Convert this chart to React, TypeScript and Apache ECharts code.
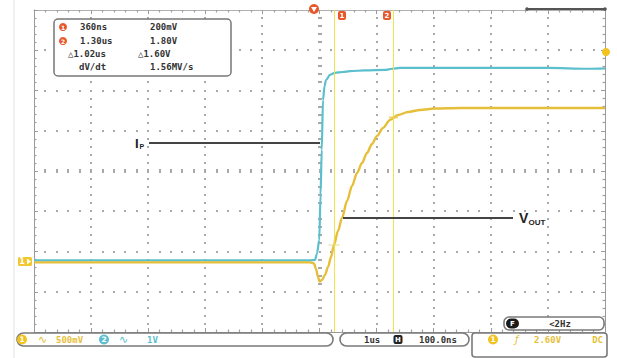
import { useEffect, useRef } from "react";
import * as echarts from "echarts";

// time axis: 100 ns / div, 10 divisions, centred on the trigger
const timeMin = -500;
const timeMax = 500;
const timeStep = 100;
// vertical: 8 divisions
const divMin = -4;
const divMax = 4;

// CH1 (VOUT) 500 mV/div, ground marker at -2.27 div
const ch1VoltsPerDiv = 0.5;
const ch1OffsetDiv = -2.27;
// CH2 (IP) 1 V/div
const ch2VoltsPerDiv = 1;
const ch2OffsetDiv = -2.22;

const ipTimeNs = [-500, -16.6, -7.9, -4.4, -0.4, 1.8, 3.9, 6.1, 8.8, 11.4, 18.4, 27.1, 41, 53.4, 80, 115, 127, 141, 400, 470, 500];
const ipVolts = [0, 0, 0.01, 0.17, 0.51, 1.62, 2.74, 3.98, 4.33, 4.48, 4.61, 4.66, 4.68, 4.7, 4.72, 4.73, 4.76, 4.78, 4.78, 4.76, 4.77];

const voutTimeNs = [-500, -16.6, -9.6, -6.1, -2.6, 0, 4.4, 9.6, 14.9, 20.1, 25.4, 32.4, 39.4, 48.2, 56.9, 65.7, 74.4, 83.2, 91.9, 100.7, 111.2, 123.5, 137.5, 155, 176, 202, 246, 500];
const voutVolts = [0, 0, -0.014, -0.082, -0.182, -0.238, -0.219, -0.157, -0.058, 0.067, 0.216, 0.39, 0.551, 0.762, 0.948, 1.11, 1.234, 1.359, 1.47, 1.57, 1.669, 1.769, 1.831, 1.868, 1.893, 1.911, 1.918, 1.918];

const cursorTimeNs = [25.4, 129.6];
const cursorCrossVolts = [0.216, 1.8];

const readoutRows = [
  ["360ns", "200mV"],
  ["1.30us", "1.80V"],
  ["△1.02us", "△1.60V"],
  ["dV/dt", "1.56MV/s"],
];

const YEL = "#e6bf3a";
const CYAN = "#5bbfce";
const RED = "#e8572c";
const CURSOR = "#f0e24a";
const MONO = "DejaVu Sans Mono";

// plot frame geometry (pixels)
const GX = 34;
const GY = 10;
const GW = 571;
const GH = 322;

export default function App() {
  const ref = useRef<HTMLDivElement>(null);
  useEffect(() => {
    if (!ref.current) return;
    const chart = echarts.init(ref.current, undefined, { renderer: "svg" });

    const ch1Min = (divMin - ch1OffsetDiv) * ch1VoltsPerDiv;
    const ch1Max = (divMax - ch1OffsetDiv) * ch1VoltsPerDiv;
    const ch2Min = (divMin - ch2OffsetDiv) * ch2VoltsPerDiv;
    const ch2Max = (divMax - ch2OffsetDiv) * ch2VoltsPerDiv;
    const nX = (timeMax - timeMin) / timeStep;
    const nY = divMax - divMin;
    const dx = GW / nX;
    const dy = GH / nY;

    const frameTick = {
      show: true,
      inside: true,
      length: 4,
      lineStyle: { color: "#9a9a9a", width: 1 },
    };
    const frameMinor = {
      show: true,
      splitNumber: 5,
      length: 2.5,
      lineStyle: { color: "#a0a0a0", width: 1.2 },
    };

    const txt = (
      x: number,
      y: number,
      text: string,
      fill: string,
      size: number,
      extra: any = {}
    ) => ({
      type: "text",
      x,
      y,
      z: 100,
      style: {
        text,
        fill,
        fontSize: size,
        fontFamily: MONO,
        fontWeight: "bold",
        verticalAlign: "middle",
        align: "left",
        ...extra,
      },
    });

    const badge = (cx: number, cy: number, r: number, fill: string, label: string) => [
      { type: "circle", z: 100, shape: { cx, cy, r }, style: { fill } },
      {
        type: "text",
        x: cx,
        y: cy,
        z: 101,
        style: {
          text: label,
          fill: "#fff",
          fontSize: r * 1.5,
          fontFamily: "DejaVu Sans",
          fontWeight: "bold",
          align: "center",
          verticalAlign: "middle",
        },
      },
    ];

    // dotted oscilloscope graticule (small squares every 1/5 division)
    const gridDots: any[] = [];
    const dot = (x: number, y: number, w: number, h: number) =>
      gridDots.push({
        type: "rect",
        z: 1,
        silent: true,
        shape: { x: Math.round(x - w / 2), y: Math.round(y - h / 2), width: w, height: h },
        style: { fill: "#a9a9a9" },
      });
    for (let i = 1; i < nX; i++) {
      const x = GX + i * dx;
      const center = i === nX / 2;
      for (let k = 1; k < nY * 5; k++) {
        const y = GY + (k * dy) / 5;
        if (k % 5 === 0) continue;
        dot(x, y, center ? 4 : 2, 2);
      }
    }
    for (let j = 1; j < nY; j++) {
      const y = GY + j * dy;
      const center = j === nY / 2;
      for (let k = 1; k < nX * 5; k++) {
        const x = GX + (k * dx) / 5;
        dot(x, y, 2, center ? 4 : 2);
      }
    }

    const graphics: any[] = [
      ...gridDots,
      // faint page edge
      { type: "line", z: 1, shape: { x1: 14, y1: 0, x2: 14, y2: 358 }, style: { stroke: "#e2e2e2", lineWidth: 1 } },
      // top-right record bar
      { type: "line", z: 100, shape: { x1: 527, y1: 9, x2: 605, y2: 9 }, style: { stroke: "#555", lineWidth: 2 } },
      { type: "circle", z: 100, shape: { cx: 527, cy: 9, r: 1.8 }, style: { fill: "#555" } },
      { type: "circle", z: 100, shape: { cx: 605, cy: 9, r: 1.8 }, style: { fill: "#555" } },
      // trigger position marker
      { type: "circle", z: 100, shape: { cx: 314, cy: 9, r: 5 }, style: { fill: RED } },
      { type: "polygon", z: 101, shape: { points: [[311, 7], [317, 7], [314, 12]] }, style: { fill: "#fff" } },
      // cursor labels
      { type: "rect", z: 100, shape: { x: 338, y: 11, width: 8, height: 9, r: 2 }, style: { fill: RED } },
      { type: "text", z: 101, x: 342, y: 15.5, style: { text: "1", fill: "#fff", fontSize: 7, fontWeight: "bold", fontFamily: "DejaVu Sans", align: "center", verticalAlign: "middle" } },
      { type: "rect", z: 100, shape: { x: 383, y: 11, width: 8, height: 9, r: 2 }, style: { fill: RED } },
      { type: "text", z: 101, x: 387, y: 15.5, style: { text: "2", fill: "#fff", fontSize: 7, fontWeight: "bold", fontFamily: "DejaVu Sans", align: "center", verticalAlign: "middle" } },
      // trigger level marker
      { type: "circle", z: 100, shape: { cx: 606, cy: 52, r: 4 }, style: { fill: "#f2c21e" } },
      // CH1 ground marker
      { type: "rect", z: 100, shape: { x: 18, y: 257, width: 14, height: 9, r: 1.5 }, style: { fill: "#f0c830" } },
      { type: "text", z: 101, x: 22, y: 261.5, style: { text: "1", fill: "#fff", fontSize: 8, fontWeight: "bold", fontFamily: "DejaVu Sans", align: "center", verticalAlign: "middle" } },
      { type: "polygon", z: 101, shape: { points: [[27, 258.5], [31, 261.5], [27, 264.5]] }, style: { fill: "#fff" } },

      // readout box
      { type: "rect", z: 99, shape: { x: 54, y: 19, width: 177, height: 57, r: 4 }, style: { fill: "#fff", stroke: "#777", lineWidth: 1.5 } },
      ...badge(63, 27, 4, RED, "1"),
      ...badge(63, 41, 4, RED, "2"),
      txt(80, 27, readoutRows[0][0], "#333", 9),
      txt(150, 27, readoutRows[0][1], "#333", 9),
      txt(80, 41, readoutRows[1][0], "#333", 9),
      txt(150, 41, readoutRows[1][1], "#333", 9),
      txt(68, 54, readoutRows[2][0], "#333", 9),
      txt(138, 54, readoutRows[2][1], "#333", 9),
      txt(79, 67, readoutRows[3][0], "#333", 9),
      txt(150, 67, readoutRows[3][1], "#333", 9),

      // IP annotation
      { type: "line", z: 100, shape: { x1: 149, y1: 143, x2: 320, y2: 143 }, style: { stroke: "#444", lineWidth: 2 } },
      { type: "text", z: 100, x: 135, y: 143.5, style: { text: "I", fill: "#222", fontSize: 13, fontWeight: "bold", fontFamily: "Liberation Sans", verticalAlign: "middle" } },
      { type: "text", z: 100, x: 139.5, y: 146, style: { text: "P", fill: "#222", fontSize: 7, fontWeight: "bold", fontFamily: "Liberation Sans", verticalAlign: "middle" } },
      // VOUT annotation
      { type: "line", z: 100, shape: { x1: 343, y1: 218, x2: 513, y2: 218 }, style: { stroke: "#444", lineWidth: 2 } },
      { type: "text", z: 100, x: 519, y: 218, style: { text: "V", fill: "#222", fontSize: 14, fontWeight: "bold", fontFamily: "Liberation Sans", verticalAlign: "middle" } },
      { type: "text", z: 100, x: 528.5, y: 222.5, style: { text: "OUT", fill: "#222", fontSize: 8, fontWeight: "bold", fontFamily: "Liberation Sans", verticalAlign: "middle" } },

      // bottom bar 1 (channels)
      { type: "rect", z: 99, shape: { x: 17, y: 333, width: 316, height: 13, r: 6.5 }, style: { fill: "#fff", stroke: "#7a7a7a", lineWidth: 1.6 } },
      ...badge(22, 339.5, 5, "#f2c21e", "1"),
      { type: "text", z: 100, x: 38, y: 339.5, style: { text: "∿", fill: YEL, fontSize: 11, fontFamily: "DejaVu Sans", verticalAlign: "middle" } },
      txt(56, 339.5, "500mV", YEL, 9),
      ...badge(104, 339.5, 5, CYAN, "2"),
      { type: "text", z: 100, x: 119, y: 339.5, style: { text: "∿", fill: CYAN, fontSize: 11, fontFamily: "DejaVu Sans", verticalAlign: "middle" } },
      txt(147, 339.5, "1V", CYAN, 9),

      // bottom bar 2 (timebase)
      { type: "rect", z: 99, shape: { x: 340, y: 333, width: 129, height: 13, r: 6.5 }, style: { fill: "#fff", stroke: "#7a7a7a", lineWidth: 1.6 } },
      txt(364, 339.5, "1us", "#333", 9),
      { type: "rect", z: 100, shape: { x: 393.5, y: 335, width: 9, height: 9, r: 2 }, style: { fill: "#222" } },
      { type: "text", z: 101, x: 398, y: 339.5, style: { text: "H", fill: "#fff", fontSize: 7, fontWeight: "bold", fontFamily: "DejaVu Sans", align: "center", verticalAlign: "middle" } },
      txt(419, 339.5, "100.0ns", "#333", 9),

      // bottom bar 3 (trigger)
      { type: "rect", z: 99, shape: { x: 472, y: 333, width: 135, height: 24, r: 3 }, style: { fill: "#fff", stroke: "#7a7a7a", lineWidth: 1.6 } },
      ...badge(493, 339.5, 5, "#f2c21e", "1"),
      { type: "text", z: 100, x: 515, y: 339.5, style: { text: "ƒ", fill: YEL, fontSize: 10, fontStyle: "italic", fontFamily: "DejaVu Sans", verticalAlign: "middle" } },
      txt(534, 339.5, "2.60V", YEL, 9),
      txt(603, 339.5, "DC", YEL, 9, { align: "right" }),

      // frequency box
      { type: "rect", z: 99, shape: { x: 504, y: 317, width: 100, height: 13, r: 5 }, style: { fill: "#fff", stroke: "#7a7a7a", lineWidth: 1.6 } },
      { type: "rect", z: 100, shape: { x: 506, y: 318.5, width: 13, height: 10, r: 5 }, style: { fill: "#1a1a1a" } },
      { type: "text", z: 101, x: 512.5, y: 323.5, style: { text: "F", fill: "#fff", fontSize: 7, fontWeight: "bold", fontFamily: "DejaVu Sans", align: "center", verticalAlign: "middle" } },
      txt(560, 323.5, "<2Hz", "#333", 9, { align: "center" }),
    ];

    chart.setOption({
      animation: false,
      backgroundColor: "#fff",
      grid: { left: GX, top: GY, width: GW, height: GH, show: false },
      xAxis: [
        {
          type: "value",
          min: timeMin,
          max: timeMax,
          interval: timeStep,
          axisLabel: { show: false },
          axisLine: { show: true, onZero: false, lineStyle: { color: "#9a9a9a", width: 1 } },
          axisTick: frameTick,
          minorTick: frameMinor,
          splitLine: { show: false },
        },
        {
          type: "value",
          position: "top",
          min: timeMin,
          max: timeMax,
          interval: timeStep,
          axisLabel: { show: false },
          axisLine: { show: true, onZero: false, lineStyle: { color: "#b0b0b0", width: 1 } },
          axisTick: frameTick,
          minorTick: frameMinor,
          splitLine: { show: false },
        },
      ],
      yAxis: [
        {
          type: "value",
          min: divMin,
          max: divMax,
          interval: 1,
          axisLabel: { show: false },
          axisLine: { show: true, onZero: false, lineStyle: { color: "#9a9a9a", width: 1 } },
          axisTick: frameTick,
          minorTick: frameMinor,
          splitLine: { show: false },
        },
        { type: "value", min: ch1Min, max: ch1Max, show: false, axisLine: { onZero: false }, splitLine: { show: false } },
        { type: "value", min: ch2Min, max: ch2Max, show: false, axisLine: { onZero: false }, splitLine: { show: false } },
        {
          type: "value",
          position: "right",
          min: divMin,
          max: divMax,
          interval: 1,
          axisLabel: { show: false },
          axisLine: { show: true, onZero: false, lineStyle: { color: "#9a9a9a", width: 1 } },
          axisTick: frameTick,
          minorTick: frameMinor,
          splitLine: { show: false },
        },
      ],
      series: [
        {
          type: "line",
          name: "IP",
          yAxisIndex: 2,
          data: ipTimeNs.map((t, i) => [t, ipVolts[i]]),
          showSymbol: false,
          smooth: 0.3,
          smoothMonotone: "x",
          lineStyle: { color: CYAN, width: 2.2 },
          z: 3,
        },
        {
          type: "line",
          name: "VOUT",
          yAxisIndex: 1,
          data: voutTimeNs.map((t, i) => [t, voutVolts[i]]),
          showSymbol: false,
          smooth: 0.3,
          smoothMonotone: "x",
          lineStyle: { color: YEL, width: 2.4 },
          z: 4,
          markLine: {
            silent: true,
            symbol: "none",
            label: { show: false },
            lineStyle: { color: CURSOR, width: 1, type: "solid" },
            data: cursorTimeNs.map((t) => ({ xAxis: t })),
          },
        },
        {
          type: "scatter",
          yAxisIndex: 1,
          data: [[cursorTimeNs[0], cursorCrossVolts[0]]],
          symbol: "path://M0 4.5h10v1h-10z M4.5 0h1v10h-1z",
          symbolSize: 11,
          itemStyle: { color: "#e8d060" },
          z: 5,
        },
        {
          type: "scatter",
          yAxisIndex: 1,
          data: [[cursorTimeNs[1], cursorCrossVolts[1]]],
          symbol: "rect",
          symbolSize: [9, 2],
          itemStyle: { color: "#e8c850" },
          z: 5,
        },
      ],
      graphic: graphics,
    });
    return () => chart.dispose();
  }, []);
  return <div ref={ref} style={{ position: "absolute", left: 0, top: 0, width: 617, height: 358 }} />;
}
